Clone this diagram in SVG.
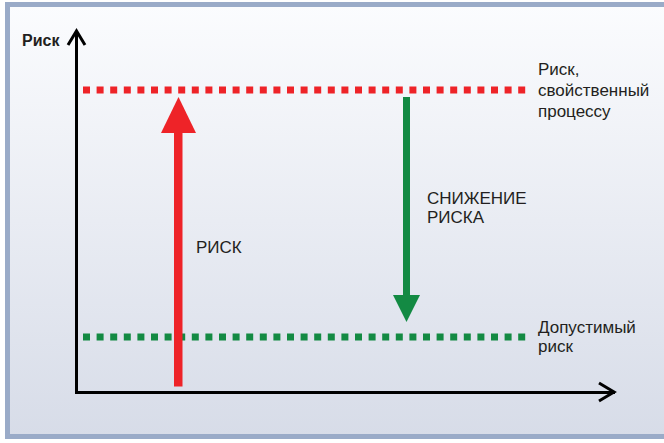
<svg xmlns="http://www.w3.org/2000/svg" width="664" height="443" viewBox="0 0 664 443">
<defs>
<linearGradient id="bg" x1="0" y1="0" x2="0" y2="1">
<stop offset="0" stop-color="#fbfcfe"/>
<stop offset="1" stop-color="#d7dce8"/>
</linearGradient>
</defs>
<style>
.t{font-family:"Liberation Sans",Arial,sans-serif;font-size:17px;fill:#231f20}
.b{font-family:"Liberation Sans",Arial,sans-serif;font-size:16px;font-weight:bold;fill:#231f20}
.ax{stroke:#000;stroke-width:3;fill:none}
.dr{stroke:#ee2328;stroke-width:7;stroke-dasharray:7 6.6;fill:none}
.dg{stroke:#138a43;stroke-width:7;stroke-dasharray:7 6.6;fill:none}
</style>
<rect x="0" y="0" width="664" height="443" fill="#ffffff"/>
<rect x="7.5" y="4.5" width="670" height="432" fill="url(#bg)" stroke="#9aabc8" stroke-width="5"/>
<g id="axes">
<text class="b" x="22" y="46">Риск</text>
<path class="ax" d="M76.5,31 V392.5 H615"/>
<path class="ax" d="M68,45 L76.5,31 L85,45"/>
<path class="ax" d="M599,383 L614,392 L599,401"/>
</g>
<g id="levels">
<path class="dr" d="M83,90 H528"/>
<path class="dg" d="M83,337 H528"/>
</g>
<g id="connectors">
<rect x="174" y="130" width="8.5" height="256.5" fill="#ee2328"/>
<polygon points="178.5,97 161,133 196,133" fill="#ee2328"/>
<rect x="403" y="97" width="7" height="200" fill="#138a43"/>
<polygon points="406.5,322 393,295 420,295" fill="#138a43"/>
</g>
<g id="labels">
<text class="t" x="196" y="253">РИСК</text>
<text class="t" x="427" y="204">СНИЖЕНИЕ</text>
<text class="t" x="427" y="223">РИСКА</text>
<text class="t" x="538" y="75">Риск,</text>
<text class="t" x="538" y="96">свойственный</text>
<text class="t" x="538" y="117">процессу</text>
<text class="t" x="538" y="333">Допустимый</text>
<text class="t" x="538" y="352">риск</text>
</g>
</svg>
